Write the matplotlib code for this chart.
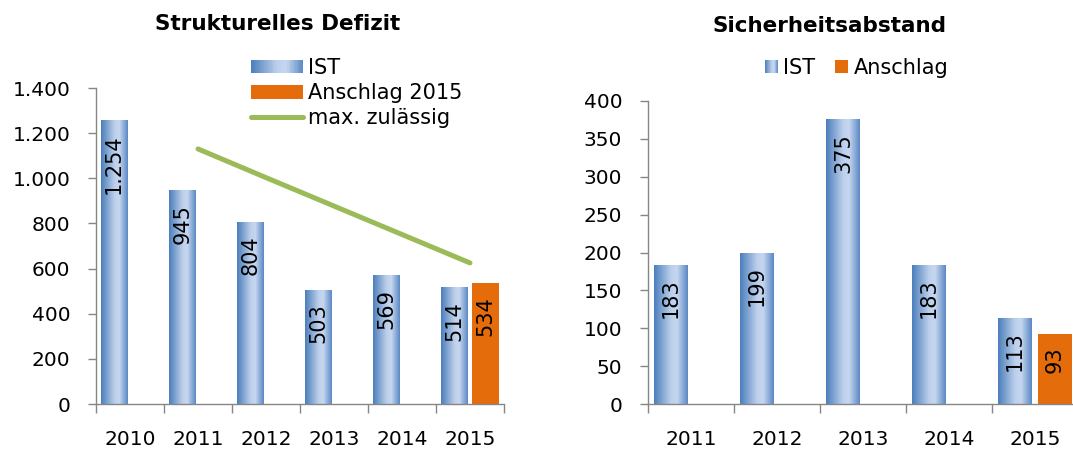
import numpy as np
import matplotlib
matplotlib.use('Agg')
import matplotlib.pyplot as plt
from matplotlib.colors import LinearSegmentedColormap
from matplotlib.patches import Rectangle, Patch
from matplotlib.lines import Line2D
from matplotlib.legend_handler import HandlerBase

# data
jahre_defizit = ['2010', '2011', '2012', '2013', '2014', '2015']
ist_defizit = [1254, 945, 804, 503, 569, 514]
anschlag_defizit = 534
max_zulaessig = [None, 1130, 1003, 877, 751, 625]

jahre_abstand = ['2011', '2012', '2013', '2014', '2015']
ist_abstand = [183, 199, 375, 183, 113]
anschlag_abstand = 93

orange = '#e46c0a'
green = '#9bbb59'
grey = '#868686'
ist_cmap = LinearSegmentedColormap.from_list(
    'ist', [(0, '#4a7ebb'), (0.5, '#bccfeb'), (0.68, '#c6d7f0'), (1, '#5a88c4')])
grad = np.linspace(0, 1, 256).reshape(1, -1)

plt.rcParams['font.family'] = ['DejaVu Sans']


def fmt(v):
    return '{:,}'.format(int(v)).replace(',', '.')


class GradHandler(HandlerBase):
    def create_artists(self, legend, orig_handle, xdescent, ydescent,
                       width, height, fontsize, trans):
        n = 40
        arts = []
        for i in range(n):
            r = Rectangle((-xdescent + width * i / n, -ydescent), width / n * 1.1, height,
                          facecolor=ist_cmap((i + 0.5) / n), edgecolor='none',
                          transform=trans)
            arts.append(r)
        return arts


def grad_bars(ax, x, vals, w):
    bars = ax.bar(x, vals, w, color='none', edgecolor='none')
    for b in bars:
        bx, by = b.get_x(), b.get_y()
        ax.imshow(grad, extent=[bx, bx + b.get_width(), by, by + b.get_height()],
                  cmap=ist_cmap, aspect='auto', interpolation='bilinear', zorder=2)
    return bars


def bar_label(ax, x, v):
    ax.annotate(fmt(v), (x, v), xytext=(0, -9.5), textcoords='offset points',
                rotation=90, ha='center', va='top', fontsize=15, color='black', zorder=4)


def style_axes(ax, cats, ymax, ystep):
    n = len(cats)
    ax.set_xlim(-0.5, n - 0.5)
    ax.set_ylim(0, ymax)
    ax.set_yticks(np.arange(0, ymax + 1, ystep))
    ax.set_yticklabels([fmt(v) for v in np.arange(0, ymax + 1, ystep)])
    ax.set_xticks(np.arange(n + 1) - 0.5)
    ax.set_xticklabels([])
    ax.set_xticks(np.arange(n), minor=True)
    ax.set_xticklabels(cats, minor=True)
    ax.tick_params(axis='x', which='major', length=6.5, width=1, color=grey, direction='out')
    ax.tick_params(axis='x', which='minor', length=0, pad=19, labelsize=14.5)
    ax.tick_params(axis='y', length=6, width=1, color=grey, pad=12.5, labelsize=14.5)
    for s in ['top', 'right']:
        ax.spines[s].set_visible(False)
    for s in ['left', 'bottom']:
        ax.spines[s].set_color(grey)
        ax.spines[s].set_linewidth(1)


fig = plt.figure(figsize=(10.73, 4.5), dpi=100)
W, H = 1073.0, 450.0

off = 0.233
bw = 0.395

# left chart
ax1 = fig.add_axes([96 / W, 46 / H, 408 / W, 316 / H])
x1 = np.arange(len(jahre_defizit))
grad_bars(ax1, x1 - off, ist_defizit, bw)
ax1.bar(x1[-1] + off, anschlag_defizit, bw, color=orange, zorder=2)
for xi, v in zip(x1, ist_defizit):
    bar_label(ax1, xi - off, v)
bar_label(ax1, x1[-1] + off, anschlag_defizit)
mx = [i for i, v in enumerate(max_zulaessig) if v is not None]
my = [v for v in max_zulaessig if v is not None]
ax1.plot(mx, my, color=green, lw=3.6, solid_capstyle='round', zorder=3)
style_axes(ax1, jahre_defizit, 1400, 200)

# right chart
ax2 = fig.add_axes([648 / W, 46 / H, 430 / W, 303 / H])
x2 = np.arange(len(jahre_abstand))
grad_bars(ax2, x2 - off, ist_abstand, bw)
ax2.bar(x2[-1] + off, anschlag_abstand, bw, color=orange, zorder=2)
for xi, v in zip(x2, ist_abstand):
    bar_label(ax2, xi - off, v)
bar_label(ax2, x2[-1] + off, anschlag_abstand)
style_axes(ax2, jahre_abstand, 400, 50)

# titles
fig.text(278 / W, 1 - 24 / H, 'Strukturelles Defizit', ha='center', va='center',
         fontsize=15.5, fontweight='bold')
fig.text(829 / W, 1 - 26 / H, 'Sicherheitsabstand', ha='center', va='center',
         fontsize=15.5, fontweight='bold')

# legends
ist_h = Patch(label='IST')
h1 = [ist_h, Patch(facecolor=orange, label='Anschlag 2015'),
      Line2D([], [], color=green, lw=3.6, solid_capstyle='round', label='max. zulässig')]
fig.legend(handles=h1, loc='upper left', bbox_to_anchor=(251 / W, 1 - 58 / H),
           frameon=False, fontsize=15, borderpad=0, borderaxespad=0,
           handlelength=2.5, handleheight=0.62, handletextpad=0.25, labelspacing=0.25,
           handler_map={ist_h: GradHandler()})

ist_h2 = Patch(label='IST')
h2 = [ist_h2, Patch(facecolor=orange, label='Anschlag')]
fig.legend(handles=h2, loc='center left', bbox_to_anchor=(765 / W, 1 - 68 / H),
           frameon=False, fontsize=15, ncol=2, borderpad=0, borderaxespad=0,
           handlelength=0.63, handleheight=0.63, handletextpad=0.25, columnspacing=0.95,
           handler_map={ist_h2: GradHandler()})

fig.savefig('out.png', dpi=100)
